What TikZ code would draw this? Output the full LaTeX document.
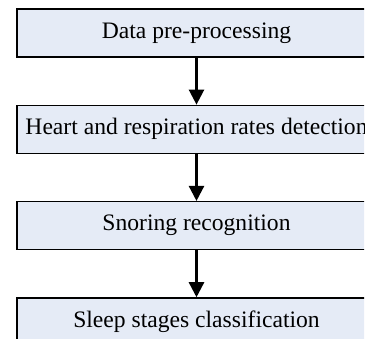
\documentclass[tikz,border=0pt]{standalone}
\usepackage{fontspec}
\setmainfont{Liberation Serif}
\usetikzlibrary{arrows.meta,positioning}
\definecolor{boxfill}{RGB}{229,235,246}

\begin{document}
\begin{tikzpicture}[x=1pt,y=-1pt,font=\fontsize{23.6}{28}\selectfont,box/.style={draw,line width=1.3pt,fill=boxfill,minimum height=48pt,minimum width=359pt,inner sep=0pt},flow/.style={line width=2.4pt,-{Triangle[length=15pt,width=15pt]}}]
\useasboundingbox (0,0) rectangle (365,339);
\clip (0,0) rectangle (364,339);
\node[box] (prep) at (196.5,33) {Data pre-processing};
\node[box,below=47pt of prep] (rates) {Heart and respiration rates detection};
\node[box,below=47pt of rates] (snore) {Snoring recognition};
\node[box,below=47pt of snore] (stages) {Sleep stages classification};
\draw[flow] (prep)--(rates);
\draw[flow] (rates)--(snore);
\draw[flow] (snore)--(stages);
\end{tikzpicture}
\end{document}
